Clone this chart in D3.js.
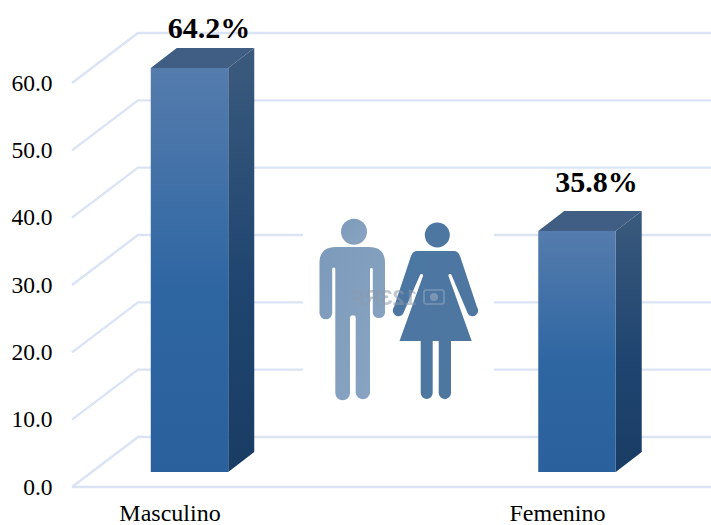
<!DOCTYPE html>
<html><head><meta charset="utf-8">
<script src="https://cdn.jsdelivr.net/npm/d3@7"></script>
<style>html,body{margin:0;padding:0;background:#fff}svg{display:block}text{font-family:"Liberation Serif",serif;fill:#000}</style>
</head><body><svg id="c" width="711" height="525"></svg>
<script>
const categories = ["Masculino", "Femenino"];
const values = [64.2, 35.8];
const valueLabels = ["64.2%", "35.8%"];
const ticks = [0, 10, 20, 30, 40, 50, 60];

const svg = d3.select("#c");
const y = d3.scaleLinear().domain([0, 60]).range([487, 83]).clamp(true);
const x = d3.scalePoint().domain(categories).range([189.5, 577]);
const wallDX = 66, wallDY = 50, barW = 77.5, barDX = 26, barDY = 20, floorLift = 15;
const axisLeft = 72, right = 711;

const defs = svg.append("defs");
function grad(id, stops) {
  const g = defs.append("linearGradient").attr("id", id).attr("x1", 0).attr("x2", 0).attr("y1", 0).attr("y2", 1);
  stops.forEach(s => g.append("stop").attr("offset", s[0]).attr("stop-color", s[1]));
}
grad("front", [[0, "#557cad"], [0.55, "#2e66a2"], [1, "#2a619c"]]);
grad("side", [[0, "#3b5a7d"], [0.55, "#1f4570"], [1, "#193c64"]]);
const gm = defs.append("linearGradient").attr("id", "man").attr("x1", 0).attr("x2", 1).attr("y1", 0).attr("y2", 1);
gm.append("stop").attr("offset", 0).attr("stop-color", "#7c9abb");
gm.append("stop").attr("offset", 1).attr("stop-color", "#8aa5c2");
const gw = defs.append("linearGradient").attr("id", "woman").attr("x1", 0).attr("x2", 1).attr("y1", 0).attr("y2", 1);
gw.append("stop").attr("offset", 0).attr("stop-color", "#4c77a4");
gw.append("stop").attr("offset", 1).attr("stop-color", "#4f769e");
defs.append("filter").attr("id", "soft").append("feGaussianBlur").attr("stdDeviation", 0.45);

// walls and floor grid
const grid = svg.append("g").attr("fill", "none").attr("stroke", "#dbe4f4").attr("stroke-width", 2.4);
grid.selectAll("path").data(ticks).join("path")
  .attr("d", t => `M${axisLeft},${y(t)}L${axisLeft + wallDX},${y(t) - wallDY}L${right},${y(t) - wallDY}`);
grid.append("line").attr("x1", axisLeft).attr("x2", right).attr("y1", y(0)).attr("y2", y(0));

// tick labels
svg.append("g").selectAll("text").data(ticks).join("text")
  .attr("x", 52.5).attr("y", t => y(t) + 7.5).attr("text-anchor", "end")
  .attr("font-size", 23.5).text(t => d3.format(".1f")(t));

// bars
const bars = svg.append("g").selectAll("g").data(categories).join("g");
const L = c => x(c) - barW / 2;
const T = (i) => y(values[i]) - floorLift;
const B = y(0) - floorLift;
bars.append("path").attr("fill", "url(#side)")
  .attr("d", (c, i) => `M${L(c) + barW},${T(i)}l${barDX},${-barDY}V${B - barDY}l${-barDX},${barDY}Z`);
bars.append("path").attr("fill", "#405e83")
  .attr("d", (c, i) => `M${L(c)},${T(i)}l${barDX},${-barDY}h${barW}l${-barDX},${barDY}Z`);
bars.append("rect").attr("fill", "url(#front)")
  .attr("x", L).attr("y", (c, i) => T(i)).attr("width", barW).attr("height", (c, i) => B - T(i));

// category labels
svg.append("g").selectAll("text").data(categories).join("text")
  .attr("x", c => x(c) - 19.5).attr("y", 521).attr("text-anchor", "middle")
  .attr("font-size", 24).text(c => c);

// value labels
svg.append("g").selectAll("text").data(categories).join("text")
  .attr("x", c => x(c) + 19.5)
  .attr("y", (c, i) => T(i) - barDY - (values[i] > y.domain()[1] ? 10 : 19))
  .attr("text-anchor", "middle").attr("font-size", 30).attr("font-weight", "bold")
  .text((c, i) => valueLabels[i]);

// inset picture
const pic = svg.append("g");
pic.append("rect").attr("x", 303).attr("y", 195).attr("width", 191).attr("height", 205).attr("fill", "#fff");
const fig = pic.append("g").attr("filter", "url(#soft)");
fig.append("circle").attr("cx", 354).attr("cy", 231.7).attr("r", 13).attr("fill", "url(#man)");
fig.append("path").attr("fill", "url(#man)").attr("d",
  "M319.5 263Q319.5 247 336 247H369Q385 247 385 263V313A6.2 6.2 0 0 1 372.8 313V269A1.5 1.5 0 0 0 370 269V393A7.2 7.2 0 0 1 355.7 393V318A2.8 2.8 0 0 0 350 318V393A7.3 7.3 0 0 1 335.3 393V269A1.5 1.5 0 0 0 332.2 269V313A6.3 6.3 0 0 1 319.5 313Z");
fig.append("circle").attr("cx", 437.3).attr("cy", 235).attr("r", 12.5).attr("fill", "url(#woman)");
fig.append("path").attr("fill", "url(#woman)").attr("d",
  "M417 251H454Q458 251 460 256L477 307A5 5 0 0 1 468 314L451.5 275A1.5 1.5 0 0 0 448.5 276L471.7 341H451V393A6.1 6.1 0 0 1 438.7 393V341H432.7V393A6 6 0 0 1 420.7 393V341H399.5L423 276A1.5 1.5 0 0 0 420 275L403 314A5 5 0 0 1 394 307L411 256Q413 251 417 251Z");
// mirrored stock-photo watermark
const wm = pic.append("g").attr("opacity", 0.55).attr("filter", "url(#soft)");
wm.append("text").attr("transform", "translate(417,305) scale(-1,1)")
  .attr("font-size", 22).attr("font-weight", "bold")
  .style("font-family", "Liberation Sans").style("fill", "#8d9bab").text("123RF");
wm.append("rect").attr("x", 424).attr("y", 290).attr("width", 20).attr("height", 14).attr("rx", 2)
  .attr("fill", "none").attr("stroke", "#9fb0c3").attr("stroke-width", 1.5);
wm.append("circle").attr("cx", 434).attr("cy", 297).attr("r", 4).attr("fill", "#9fb0c3");
</script></body></html>
